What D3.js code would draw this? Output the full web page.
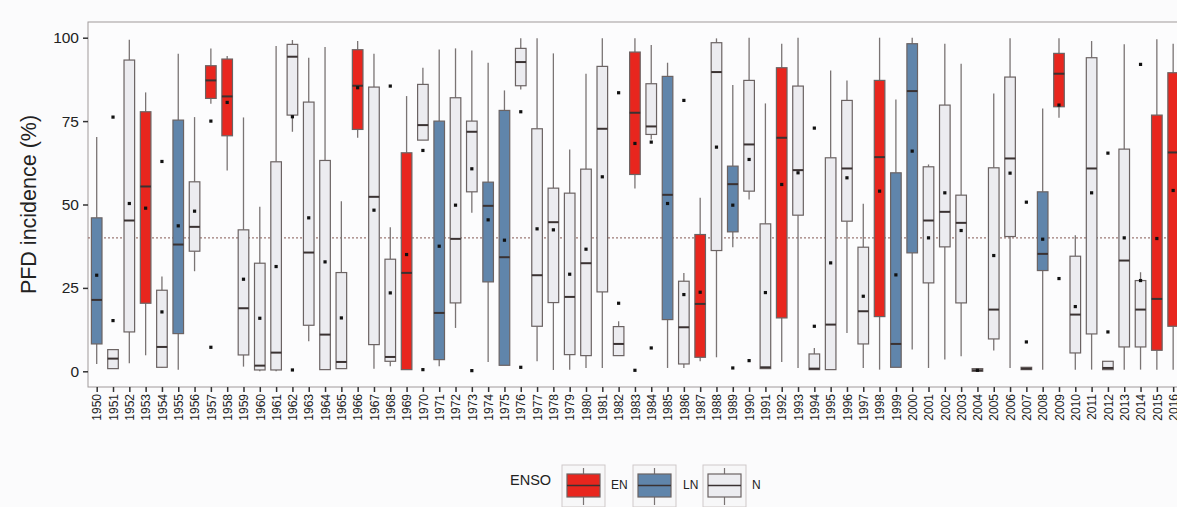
<!DOCTYPE html>
<html>
<head>
<meta charset="utf-8">
<script src="https://cdn.jsdelivr.net/npm/d3@7"></script>
<style>
  body { margin: 0; background: #fbfbfc; }
  text { font-family: "Liberation Sans", Arial, sans-serif; }
</style>
</head>
<body>
<div id="chart"></div>
<script>
// years on the x axis
var years = d3.range(1950, 2017).map(String);

// ENSO phase for each year
var enso = ["LN","N","N","EN","N","LN","N","EN","EN","N",
            "N","N","N","N","N","N","EN","N","N","EN",
            "N","LN","N","N","LN","LN","N","N","N","N",
            "N","N","N","EN","N","LN","N","EN","N","LN",
            "N","N","EN","N","N","N","N","N","EN","LN",
            "LN","N","N","N","N","N","N","N","LN","EN",
            "N","N","N","N","N","EN","EN"];

// box stats (%)
var whiskLo = [2.2,0.8,2.4,4.8,1,0.5,30,80.2,60.2,1.4,
               0,0,71.8,9,0.5,0.8,70,0.8,1.5,0.5,
               69.3,1.5,13,47.5,2.8,1.8,84.5,3,0.4,0.5,
               1,1,4.7,54.8,69.5,1,1,3,4.2,37.2,
               51.5,0.8,2.8,1,0.5,0.5,11.5,1,0.5,1.2,
               6.5,1,3.5,4.5,0,6.2,1,0.5,0.5,76,
               0.5,0.5,0.5,0.5,0.5,0.5,0.5];
var q1 = [8.2,0.8,11.8,20.4,1.2,11.3,36,81.8,70.6,4.9,
          0.4,0.4,76.8,13.8,0.5,0.8,72.5,8,3,0.5,
          69.3,3.5,20.5,53.8,26.8,1.8,85.6,13.5,20.6,5,
          4.7,23.8,4.7,59,71,15.5,2.2,4.2,36.2,41.8,
          54,0.8,16,46.8,0.5,0.5,45,8.2,16.4,1.2,
          35.5,26.5,37.3,20.5,0,9.7,40.4,0.5,30.2,79.3,
          5.5,11.2,0.5,7.3,7.3,6.3,13.5];
var med = [21.4,3.8,45.2,55.4,7.3,38,43.3,87.2,82.4,18.9,
           1.7,5.6,94.3,35.6,11,2.8,85.6,52.3,4.3,29.5,
           73.8,17.5,39.7,71.8,49.6,34.2,92.7,28.8,44.7,22.3,
           32.4,72.7,8.2,77.5,73.4,52.9,13.2,20.2,89.7,56.1,
           68,1.2,70,60.3,0.8,14,60.8,18,64.2,8.2,
           84,45.2,47.8,44.5,0.3,18.5,63.8,0.8,35.2,89.2,
           17,60.8,1,33.2,18.5,21.7,65.6];
var q3 = [46,6.5,93.3,77.8,24.3,75.3,56.8,91.6,93.6,42.4,
          32.4,62.8,98,80.7,63.2,29.6,96.4,85.2,33.6,65.5,
          86,75,82,75,56.7,78.2,96.8,72.7,54.9,53.4,
          60.6,91.4,13.4,95.7,86.2,88.4,27,41,98.5,61.5,
          87.2,44.2,91,85.5,5.2,64,81.2,37.2,87.2,59.5,
          98.2,61.3,79.8,52.8,0.8,61,88.2,1.2,53.8,95.3,
          34.5,94,3,66.6,27.2,76.8,89.5];
var whiskHi = [70.2,6.5,99.4,83.6,28.4,95.2,76.2,96.8,94.5,76.1,
               49.3,97.5,99.3,94,97.2,51,99,95.2,43.2,82.5,
               91,96.5,96.8,96.2,92.5,84.2,99.8,99.8,95.3,66.5,
               89.2,99.8,15,99.8,97.8,92.5,29.5,52,99.8,85.8,
               100,80.3,98.2,100,7,90.2,87.2,50.2,100,81.5,
               100,62,98.2,92.2,0.8,83.3,99.8,1.2,78.8,99.8,
               40.8,99,3,98,29.7,99.5,98.2];
// mean per year (black square)
var means = [28.8,15.2,50.3,48.9,17.8,43.6,48,75,80.6,27.6,
             15.9,31.4,76.3,46,32.8,16,85,48.3,23.5,35,
             66.2,37.5,49.8,60.7,45.4,39.3,77.8,42.7,42.4,29.1,
             36.6,58.3,20.4,68.3,68.7,50.3,23,23.7,67.2,49.8,
             63.5,23.6,56,59.5,13.5,32.5,58,22.5,54,28.9,
             66,40,53.5,42.2,0.3,34.7,59.4,8.8,39.6,79.8,
             19.4,53.5,11.8,40,27.2,39.8,54.2];
// outliers [year, value]
var outliers = [["1951",76.2],["1954",62.9],["1957",7.2],["1962",0.4],["1968",85.5],
                ["1970",0.5],["1973",0.2],["1976",1.2],["1982",83.5],["1983",0.3],
                ["1984",7],["1986",81.2],["1989",1],["1990",3.2],["1994",72.9],
                ["2007",50.7],["2009",27.8],["2012",65.4],["2014",92]];

var ensoColors = { EN: "#e8261e", LN: "#6085ab", N: "#ececf0" };
var ensoKeys = ["EN", "LN", "N"];

var width = 1177, height = 507;
var panel = { left: 88, top: 22, right: 1186, bottom: 387 };

var svg = d3.select("#chart").append("svg")
    .attr("width", width)
    .attr("height", height)
    .style("display", "block");

svg.append("rect").attr("width", width).attr("height", height).attr("fill", "#fbfbfc");

var x = d3.scalePoint()
    .domain(years)
    .range([96.7, 96.7 + 66 * 16.31]);

var y = d3.scaleLinear()
    .domain([0, 100])
    .range([371.3, 37.7]);

var boxW = 10.6;

// panel
svg.append("rect")
    .attr("x", panel.left).attr("y", panel.top)
    .attr("width", panel.right - panel.left).attr("height", panel.bottom - panel.top)
    .attr("fill", "#fcfcfd").attr("stroke", "#a09a9a").attr("stroke-width", 1);

// reference line at 40%
svg.append("line")
    .attr("x1", panel.left).attr("x2", panel.right)
    .attr("y1", y(40)).attr("y2", y(40))
    .attr("stroke", "#9c7a76").attr("stroke-width", 1.1)
    .attr("stroke-dasharray", "2,2");

// boxes
var data = years.map(function (yr, i) {
    return { year: yr, enso: enso[i], lo: whiskLo[i], q1: q1[i], med: med[i],
             q3: q3[i], hi: whiskHi[i], mean: means[i] };
});

var g = svg.append("g");
var boxes = g.selectAll("g.box").data(data).enter().append("g").attr("class", "box");

boxes.append("line")
    .attr("x1", d => x(d.year)).attr("x2", d => x(d.year))
    .attr("y1", d => y(d.hi)).attr("y2", d => y(d.q3))
    .attr("stroke", "#7a7474").attr("stroke-width", 1.3);
boxes.append("line")
    .attr("x1", d => x(d.year)).attr("x2", d => x(d.year))
    .attr("y1", d => y(d.q1)).attr("y2", d => y(d.lo))
    .attr("stroke", "#7a7474").attr("stroke-width", 1.3);

boxes.append("rect")
    .attr("x", d => x(d.year) - boxW / 2)
    .attr("width", boxW)
    .attr("y", d => y(d.q3))
    .attr("height", d => Math.max(1, y(d.q1) - y(d.q3)))
    .attr("fill", d => ensoColors[d.enso])
    .attr("stroke", "#6b6363")
    .attr("stroke-width", 1.2);

boxes.append("line")
    .attr("x1", d => x(d.year) - boxW / 2).attr("x2", d => x(d.year) + boxW / 2)
    .attr("y1", d => y(d.med)).attr("y2", d => y(d.med))
    .attr("stroke", "#3a3232").attr("stroke-width", 2);

boxes.append("rect")
    .attr("x", d => x(d.year) - 1.6).attr("y", d => y(d.mean) - 1.6)
    .attr("width", 3.2).attr("height", 3.2)
    .attr("fill", "#111");

g.selectAll("rect.out").data(outliers).enter().append("rect")
    .attr("class", "out")
    .attr("x", d => x(d[0]) - 1.6).attr("y", d => y(d[1]) - 1.6)
    .attr("width", 3.2).attr("height", 3.2)
    .attr("fill", "#111");

// y axis
var yAxis = svg.append("g")
    .attr("transform", "translate(" + panel.left + ",0)")
    .call(d3.axisLeft(y).tickValues([0, 25, 50, 75, 100]).tickSize(5).tickPadding(4));
yAxis.select(".domain").remove();
yAxis.selectAll(".tick line").attr("stroke", "#333").attr("stroke-width", 1.5);
yAxis.selectAll(".tick text").attr("fill", "#222").style("font-size", "15.5px");

// x axis
var xAxis = svg.append("g")
    .attr("transform", "translate(0," + panel.bottom + ")")
    .call(d3.axisBottom(x).tickSize(5).tickPadding(3));
xAxis.select(".domain").remove();
xAxis.selectAll(".tick line").attr("stroke", "#333").attr("stroke-width", 1.5);
xAxis.selectAll(".tick text")
    .attr("fill", "#222")
    .style("font-size", "12px")
    .attr("transform", "rotate(-90)")
    .attr("text-anchor", "end")
    .attr("x", -7)
    .attr("y", 0)
    .attr("dy", "0.35em");

// y title
svg.append("text")
    .attr("transform", "translate(36," + y(50) + ") rotate(-90)")
    .attr("text-anchor", "middle")
    .style("font-size", "21.5px")
    .attr("fill", "#222")
    .text("PFD incidence (%)");

// legend
var legend = svg.append("g");
legend.append("text")
    .attr("x", 510).attr("y", 485)
    .style("font-size", "14.5px").attr("fill", "#222")
    .text("ENSO");

var keyX = [562, 633, 703];
var labelX = [611, 683, 752];
ensoKeys.forEach(function (k, i) {
    var kx = keyX[i], ky = 465;
    legend.append("rect")
        .attr("x", kx).attr("y", ky).attr("width", 43).attr("height", 42)
        .attr("fill", "#f7f7f8").attr("stroke", "#cfc9c9").attr("stroke-width", 1);
    legend.append("line")
        .attr("x1", kx + 21.5).attr("x2", kx + 21.5).attr("y1", ky + 3).attr("y2", ky + 40)
        .attr("stroke", "#7a7474").attr("stroke-width", 1.2);
    legend.append("rect")
        .attr("x", kx + 5).attr("y", ky + 9).attr("width", 33).attr("height", 23)
        .attr("fill", ensoColors[k]).attr("stroke", "#6b6363").attr("stroke-width", 1.2);
    legend.append("line")
        .attr("x1", kx + 5).attr("x2", kx + 38).attr("y1", ky + 20.5).attr("y2", ky + 20.5)
        .attr("stroke", "#3a3232").attr("stroke-width", 1.6);
    legend.append("text")
        .attr("x", labelX[i]).attr("y", 489)
        .style("font-size", "12px").attr("fill", "#222")
        .text(k);
});
</script>
</body>
</html>
